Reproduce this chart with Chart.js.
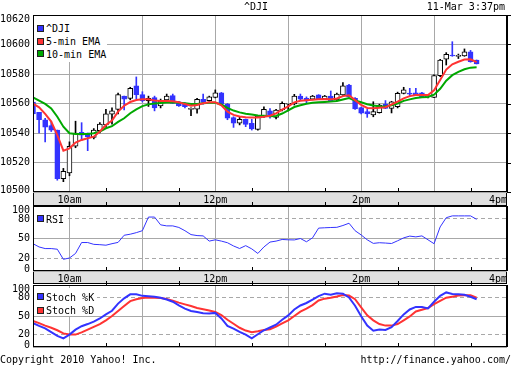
<!DOCTYPE html>
<html>
<head>
<meta charset="utf-8">
<title>^DJI intraday</title>
<script src="https://cdn.jsdelivr.net/npm/chart.js@4.4.1/dist/chart.umd.min.js"></script>
<style>
  html, body { margin: 0; padding: 0; background: #fff; }
  #page { position: relative; width: 512px; height: 365px; overflow: hidden;
          font: 10px/10px "DejaVu Sans Mono", monospace; color: #000; }
  #page canvas { position: absolute; left: 0; }
  .t { position: absolute; white-space: pre; }
  .bg { position: absolute; background: #fff; }
  .key { position: absolute; width: 5px; height: 5px; border: 1px solid #222; }
</style>
</head>
<body>
<div id="page">
  <canvas id="priceChart" width="512" height="206" style="top:0"></canvas>
  <canvas id="rsiChart" width="512" height="88" style="top:196px"></canvas>
  <canvas id="stochChart" width="512" height="81" style="top:275px"></canvas>

  <div class="t" style="left:0;width:512px;top:2px;text-align:center">^DJI</div>
  <div class="t" style="right:7px;top:2px">11-Mar 3:37pm</div>

  <!-- price legend -->
  <div class="bg" style="left:34px;top:16px;width:73px;height:46px"></div>
  <div class="key" style="left:37px;top:25px;background:#3333ff"></div>
  <div class="t" style="left:46px;top:24px">^DJI</div>
  <div class="key" style="left:37px;top:38px;background:#ff3333"></div>
  <div class="t" style="left:46px;top:37px">5-min EMA</div>
  <div class="key" style="left:37px;top:50px;background:#00a800"></div>
  <div class="t" style="left:46px;top:49.5px">10-min EMA</div>

  <!-- rsi legend -->
  <div class="bg" style="left:34px;top:213px;width:31px;height:11px"></div>
  <div class="key" style="left:37px;top:215px;background:#3333ff"></div>
  <div class="t" style="left:46px;top:214.5px">RSI</div>

  <!-- stochastic legend -->
  <div class="bg" style="left:34px;top:288px;width:63px;height:28px"></div>
  <div class="key" style="left:37px;top:293px;background:#3333ff"></div>
  <div class="t" style="left:46px;top:293px">Stoch %K</div>
  <div class="key" style="left:37px;top:307px;background:#ff3333"></div>
  <div class="t" style="left:46px;top:306px">Stoch %D</div>

  <div class="t" style="left:0;top:355px">Copyright 2010 Yahoo! Inc.</div>
  <div class="t" style="right:1px;top:355px">http://finance.yahoo.com/</div>
</div>

<script>
// 5-minute bars from 9:30, last bar 3:35pm
const candleMinutes = 5;
const openVals = [
  10561, 10554, 10549, 10545, 10542, 10509, 10513, 10531, 10540.5, 10540,
  10537, 10541.6, 10545.5, 10552.7, 10556, 10565, 10563.5, 10572, 10566, 10562,
  10564, 10558.3, 10562.4, 10565.3, 10561.2, 10560, 10556, 10556.1, 10562.9, 10561.9,
  10564.2, 10567.3, 10559.5, 10550.4, 10546.6, 10549.3, 10546.6, 10542.5, 10551, 10555.1,
  10550.6, 10555.6, 10559.5, 10559.7, 10565.1, 10563.5, 10562.9, 10565.8, 10563.3, 10565.1,
  10562.4, 10565.8, 10572.5, 10563.5, 10557.2, 10554.5, 10552.2, 10553.8, 10559.5, 10556.7,
  10557.8, 10566.9, 10566.6, 10567.3, 10567.3, 10564.6, 10564.2, 10578.9, 10590, 10592.8,
  10592, 10592.2, 10595.1, 10589.5
];
const highVals = [
  10562, 10554, 10550, 10548, 10542, 10516, 10534, 10548, 10547, 10540,
  10543, 10547, 10556, 10557, 10567, 10565, 10571, 10578, 10568, 10565,
  10565, 10563, 10566.4, 10566.4, 10561.5, 10560.5, 10557, 10563.5, 10566.4, 10565,
  10569.2, 10567.5, 10560, 10551, 10551, 10549.5, 10549.3, 10552, 10557.8, 10556.5,
  10556, 10561.2, 10560, 10566.2, 10566.4, 10564.5, 10565.5, 10566, 10565.5, 10568.5,
  10567, 10574.1, 10573, 10564, 10557.5, 10556, 10561.2, 10559.5, 10562, 10561.5,
  10567.7, 10571, 10570.3, 10570.3, 10567.6, 10565.5, 10579.5, 10590, 10594.5, 10601.9,
  10593.5, 10597, 10596, 10589.5
];
const lowVals = [
  10552, 10540, 10534, 10541, 10508, 10507, 10511, 10530, 10535, 10528,
  10536, 10540, 10544, 10546, 10553, 10555.6, 10562.5, 10563, 10561, 10558,
  10555, 10557, 10561, 10560, 10558, 10557, 10551.7, 10553.4, 10559.5, 10561.5,
  10563.8, 10559, 10549, 10543.8, 10545.5, 10544.3, 10542, 10542, 10550.5, 10550,
  10549.5, 10555, 10555, 10559, 10561.9, 10560.5, 10562.5, 10562.8, 10563, 10561.5,
  10562, 10565.5, 10564.3, 10556, 10553, 10550.6, 10551, 10553.5, 10556.5, 10553.6,
  10557, 10566.5, 10565, 10565.5, 10563.9, 10563.8, 10564, 10578.2, 10586.1, 10592,
  10590.5, 10592, 10588, 10586.8
];
const closeVals = [
  10553, 10549, 10544, 10542, 10509, 10514, 10531, 10540, 10538.6, 10537.5,
  10542, 10546, 10553, 10555, 10566, 10563, 10570.3, 10566, 10562, 10563.5,
  10557, 10561.7, 10565, 10560.1, 10558.3, 10557.8, 10556, 10562.9, 10560.8, 10564.6,
  10567.3, 10559.5, 10550, 10546.6, 10549.3, 10545.9, 10542.7, 10551.5, 10556.1, 10551,
  10555.6, 10560.1, 10559.5, 10565.1, 10562.9, 10561.7, 10565.1, 10563.1, 10565.1, 10561.9,
  10566.4, 10571.9, 10564.6, 10556.3, 10553.4, 10552.9, 10554.5, 10559, 10556.7, 10561.2,
  10566.9, 10569.2, 10566.4, 10565.8, 10564, 10564.6, 10578.9, 10589.5, 10593.4, 10592.2,
  10592, 10595.1, 10588.3, 10586.8
];
const ema5Vals = [
  10560, 10557.4, 10553, 10547.7, 10538.6, 10528, 10529.6, 10533.5, 10535.3, 10536.4,
  10537.5, 10541, 10545.4, 10548.5, 10554.5, 10558.5, 10561, 10562.4, 10562.8, 10562.8,
  10562, 10561.7, 10561.7, 10561.5, 10560.8, 10559.6, 10558.5, 10559, 10560.1, 10560.8,
  10560.8, 10558.8, 10554.5, 10552.3, 10551.2, 10550.7, 10550.5, 10550.5, 10551, 10551.7,
  10553.3, 10555.9, 10558, 10560.8, 10561.8, 10562.2, 10562.5, 10562.9, 10563, 10562.8,
  10563.4, 10565, 10565.6, 10562.3, 10559, 10557, 10556.8, 10557.2, 10557.5, 10559.3,
  10561.2, 10563.5, 10565, 10565.8, 10565.8, 10565.8, 10569, 10576, 10583, 10586.6,
  10588.3, 10589.8, 10590, 10588
];
const ema10Vals = [
  10564.2, 10562, 10559.7, 10556.7, 10551, 10544.3, 10539.8, 10539.3, 10539.3, 10539.3,
  10539.8, 10540.9, 10543.2, 10544.6, 10547.5, 10550, 10553.4, 10556, 10558.2, 10559.4,
  10560, 10560.4, 10560.7, 10560.8, 10560.5, 10560.1, 10559.6, 10559.7, 10560.1, 10560.5,
  10560.5, 10559.3, 10557, 10555.2, 10554, 10553, 10552.5, 10551.8, 10551.7, 10551.4,
  10551.5, 10553.2, 10555.3, 10557.6, 10558.8, 10559.8, 10560.5, 10560.9, 10561.1, 10561.3,
  10561.7, 10562.7, 10563.7, 10562, 10560.8, 10559.5, 10558.7, 10558.2, 10557.9, 10558.8,
  10560, 10561.8, 10562.8, 10563.7, 10564.2, 10564.4, 10566, 10570, 10575.5, 10579.2,
  10581.5, 10583.2, 10584.3, 10584.5
];
const rsiVals = [
  42, 37, 34.5, 34.5, 33.5, 18, 20, 27, 43.8, 43.8,
  41, 40.5, 39.7, 42, 44, 55, 56.6, 59, 62, 83,
  83, 71, 69.4, 69.4, 67, 62, 56, 54.5, 54, 46,
  48, 46, 43.5, 38.5, 34.6, 39, 34, 27, 37, 44.5,
  46, 48.5, 48, 47.8, 50, 45, 51, 66, 66.5, 66.9,
  67.2, 70, 73.5, 62, 55.5, 48, 42.5, 43.5, 43, 42.3,
  46.5, 51, 53.7, 52.5, 54, 48, 42, 67.8, 82, 84.8,
  84.8, 84.8, 84.8, 79.5
];
const stochKVals = [
  38.5, 34, 30, 24, 18, 14, 20, 28, 33.5, 37,
  41, 46, 52.5, 58.5, 70, 78.5, 85, 85, 82.5, 82,
  81, 79.5, 76.5, 73, 67, 62, 58, 56.5, 54.5, 54,
  55, 46, 34, 29.5, 24.5, 20, 14, 20.5, 27, 31.5,
  36, 44, 51, 60.5, 67, 71, 76.5, 82, 86, 84.2,
  86.5, 86, 80, 66.5, 49.5, 34.5, 26.2, 28.3, 27.5, 32,
  42, 52.6, 60.5, 64.6, 64.6, 62.2, 73, 82.5, 88, 85.5,
  85, 84.3, 81, 77
];
const stochDVals = [
  42, 38.5, 34.5, 31, 27, 22, 20, 20, 23.5, 28,
  32.5, 37, 43, 50, 58, 66, 74, 77, 79, 80,
  79.6, 79.2, 77.3, 74.8, 71.6, 68.7, 66, 63, 61, 59,
  56.5, 51.5, 44, 37.5, 31, 26.5, 24, 25.5, 27.5, 28.6,
  33, 38, 43, 50, 57, 62, 67.5, 75, 78, 79.5,
  81.5, 84, 83, 77, 64, 51, 43, 37, 34.5, 34.5,
  37, 43, 49.3, 57.3, 60, 62.8, 69, 74.5, 79.5, 81.2,
  83, 83.5, 83.3, 79.5
];

const priceTicks = [10500, 10520, 10540, 10560, 10580, 10600, 10620];
const oscTicks = [0, 20, 50, 80, 100];
const oscDashed = [20, 80];
// minutes after 9:30, one tick every half hour up to 4pm
const timeTicks = [0, 30, 60, 90, 120, 150, 180, 210, 240, 270, 300, 330, 360, 390];
const labelMinutes = [30, 150, 270, 390];
const labelTexts = ['10am', '12pm', '2pm', '4pm'];

const BLUE = '#3333ff', RED = '#ff3333', GREEN = '#00a800';
const GRID = '#a8a8a8', BAND = '#e0e0e0';

Chart.defaults.font.family = '"DejaVu Sans Mono", monospace';
Chart.defaults.font.size = 10;
Chart.defaults.color = '#000';

const minutes = openVals.map((_, i) => i * candleMinutes);
const isUp = openVals.map((o, i) => closeVals[i] >= o);
const pts = vals => vals.map((v, i) => ({ x: minutes[i], y: v }));

// grey time band under a panel, frame around the plot, half-hour marks
const panelFrame = {
  id: 'panelFrame',
  beforeDraw(chart) {
    const x = chart.scales.x;
    const ctx = chart.ctx;
    if (x.height > 0) {
      ctx.save();
      ctx.fillStyle = BAND;
      ctx.fillRect(x.left, x.top, x.right - x.left, x.bottom - x.top);
      ctx.strokeStyle = '#000';
      ctx.lineWidth = 1;
      ctx.strokeRect(x.left + 0.5, x.top + 0.5, x.right - x.left - 1, x.bottom - x.top - 1);
      ctx.restore();
    }
    // keep the end labels of the value axis inside the panel
    const items = chart.scales.y.getLabelItems();
    if (items.length) {
      items[0].options.translation[1] -= 2;
      items[items.length - 1].options.translation[1] += 4;
    }
  },
  afterDraw(chart, args, opts) {
    const { ctx, chartArea: a, scales } = chart;
    ctx.save();
    ctx.strokeStyle = '#000';
    ctx.lineWidth = 1;
    ctx.strokeRect(a.left + 0.5, a.top + 0.5, a.right - a.left - 1, a.bottom - a.top - 1);
    ctx.lineWidth = 2;
    ctx.beginPath();
    ctx.moveTo(a.right, a.top);
    ctx.lineTo(a.right, a.bottom);
    ctx.stroke();
    ctx.lineWidth = 1;
    ctx.beginPath();
    timeTicks.forEach(v => {
      if (v % 60 !== 0 || v === 0) return;
      const px = Math.round(scales.x.getPixelForValue(v)) + 0.5;
      ctx.moveTo(px, a.bottom);
      ctx.lineTo(px, a.bottom - 4);
      if (opts.topMarks) {
        ctx.moveTo(px, a.top);
        ctx.lineTo(px, a.top - 4);
      }
    });
    if (opts.rightMarks) {
      scales.y.ticks.forEach(t => {
        const py = Math.round(scales.y.getPixelForValue(t.value)) + 0.5;
        ctx.moveTo(a.right, py);
        ctx.lineTo(a.right + 4, py);
      });
    }
    ctx.stroke();
    ctx.restore();
  }
};

function timeAxis(bandHeight, showLabels) {
  return {
    type: 'linear',
    min: 0,
    max: 390,
    offset: false,
    afterBuildTicks: s => { s.ticks = timeTicks.map(v => ({ value: v })); },
    afterFit: s => { s.height = bandHeight; },
    grid: {
      offset: false,
      color: c => (c.tick && c.tick.value % 60 === 30) ? GRID : 'rgba(0,0,0,0)',
      drawTicks: false
    },
    border: { display: false },
    ticks: {
      display: showLabels,
      autoSkip: false,
      maxRotation: 0,
      align: 'inner',
      padding: 2,
      callback: v => {
        const k = labelMinutes.indexOf(v);
        return k < 0 ? '' : labelTexts[k];
      }
    }
  };
}

function valueAxis(tickList, min, max, dashed) {
  return {
    type: 'linear',
    min: min,
    max: max,
    afterBuildTicks: s => { s.ticks = tickList.map(v => ({ value: v })); },
    afterFit: s => { s.width = 33; },
    grid: { color: GRID, drawTicks: false },
    border: {
      display: false,
      dash: c => (c.tick && dashed.includes(c.tick.value)) ? [4, 3] : []
    },
    ticks: { autoSkip: false, padding: 3, callback: v => String(v) }
  };
}

const baseOptions = {
  responsive: false,
  animation: false,
  devicePixelRatio: 1,
  events: []
};

new Chart(document.getElementById('priceChart'), {
  type: 'bar',
  data: {
    datasets: [
      {
        type: 'line', label: '5-min EMA', data: pts(ema5Vals),
        borderColor: RED, borderWidth: 2, pointRadius: 0, order: 0
      },
      {
        type: 'line', label: '10-min EMA', data: pts(ema10Vals),
        borderColor: GREEN, borderWidth: 2, pointRadius: 0, order: 1
      },
      {
        label: '^DJI',
        data: minutes.map((m, i) => ({ x: m, y: [openVals[i], closeVals[i]] })),
        backgroundColor: isUp.map(u => u ? '#ffffff' : BLUE),
        borderColor: isUp.map(u => u ? '#000000' : BLUE),
        borderWidth: 1, borderSkipped: false, barThickness: 5,
        minBarLength: 1, grouped: false, order: 2
      },
      {
        label: 'range',
        data: minutes.map((m, i) => ({ x: m, y: [lowVals[i], highVals[i]] })),
        backgroundColor: isUp.map(u => u ? '#000000' : BLUE),
        barThickness: 1, grouped: false, order: 3
      }
    ]
  },
  options: Object.assign({}, baseOptions, {
    layout: { padding: { top: 15, right: 5, left: 0, bottom: 0 } },
    scales: {
      x: timeAxis(14, true),
      y: valueAxis(priceTicks, 10500, 10620, [])
    },
    plugins: {
      legend: { display: false },
      tooltip: { enabled: false },
      panelFrame: { rightMarks: true }
    }
  }),
  plugins: [panelFrame]
});

new Chart(document.getElementById('rsiChart'), {
  type: 'line',
  data: {
    datasets: [{
      label: 'RSI', data: pts(rsiVals),
      borderColor: BLUE, borderWidth: 1, pointRadius: 0
    }]
  },
  options: Object.assign({}, baseOptions, {
    layout: { padding: { top: 10, right: 5, left: 0, bottom: 0 } },
    scales: {
      x: timeAxis(13, true),
      y: valueAxis(oscTicks, 0, 100, oscDashed)
    },
    plugins: {
      legend: { display: false },
      tooltip: { enabled: false },
      panelFrame: { topMarks: true }
    }
  }),
  plugins: [panelFrame]
});

new Chart(document.getElementById('stochChart'), {
  type: 'line',
  data: {
    datasets: [
      {
        label: 'Stoch %K', data: pts(stochKVals),
        borderColor: BLUE, borderWidth: 2, pointRadius: 0, order: 0
      },
      {
        label: 'Stoch %D', data: pts(stochDVals),
        borderColor: RED, borderWidth: 2, pointRadius: 0, order: 1
      }
    ]
  },
  options: Object.assign({}, baseOptions, {
    layout: { padding: { top: 10, right: 5, left: 0, bottom: 6 } },
    scales: {
      x: timeAxis(0, false),
      y: valueAxis(oscTicks, 0, 100, oscDashed)
    },
    plugins: {
      legend: { display: false },
      tooltip: { enabled: false },
      panelFrame: { topMarks: true }
    }
  }),
  plugins: [panelFrame]
});
</script>
</body>
</html>
